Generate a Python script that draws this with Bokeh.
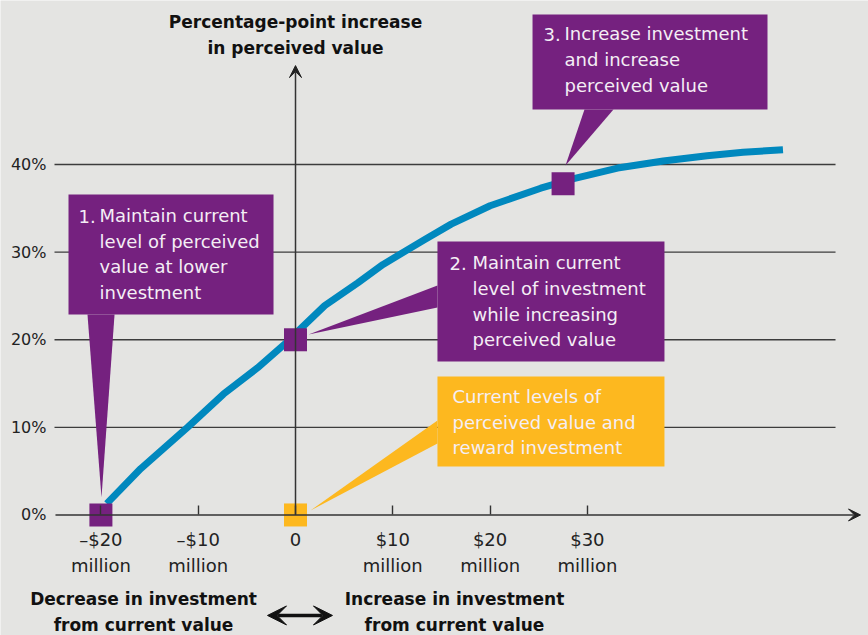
from bokeh.plotting import figure
from bokeh.models import LinearAxis, FixedTicker, Arrow, VeeHead, Range1d
from bokeh.core.properties import value
from bokeh.embed import file_html
from bokeh.resources import INLINE

# ---- data ----
x_ticks = [-20, -10, 0, 10, 20, 30]
x_tick_labels = ["\u2013$20\nmillion", "\u2013$10\nmillion", "0", "$10\nmillion", "$20\nmillion", "$30\nmillion"]
y_ticks = [0, 10, 20, 30, 40]
y_tick_labels = ["0%", "10%", "20%", "30%", "40%"]

invest = [-19.4, -15.9, -11.1, -7.4, -3.9, -0.5, 0.0, 3.0, 6.4, 9.0, 13.2, 16.0, 20.0, 25.2, 28.6, 33.1, 37.8, 42.3, 46.0, 50.1]
perceived = [1.3, 5.3, 10.0, 13.8, 16.8, 20.1, 20.7, 23.9, 26.5, 28.6, 31.4, 33.2, 35.3, 37.3, 38.4, 39.6, 40.4, 41.0, 41.4, 41.7]

marker_x = [-20, 0, 27.5, 0]
marker_y = [0, 20, 37.8, 0]

BG = "#e4e4e2"
PURPLE = "#75217f"
YELLOW = "#fdb81f"
BLUE = "#0088be"
DARK = "#333333"
FONT = "DejaVu Sans"

marker_colors = [PURPLE, PURPLE, PURPLE, YELLOW]

p = figure(width=868, height=635, x_range=Range1d(-30.32, 58.89), y_range=Range1d(-13.76, 58.73),
           output_backend="svg", toolbar_location=None, min_border=0,
           x_axis_type=None, y_axis_type=None)
p.background_fill_color = BG
p.border_fill_color = BG
p.outline_line_color = None

# gridlines
grid_y = [t for t in y_ticks if t > 0]
p.segment(x0=[-24.77] * len(grid_y), x1=[55.5] * len(grid_y), y0=grid_y, y1=grid_y,
          line_color="#3c3c3c", line_width=1.4)

# axes
xaxis = LinearAxis(fixed_location=0, ticker=FixedTicker(ticks=x_ticks),
                   major_label_overrides=dict(zip(x_ticks, x_tick_labels)),
                   axis_line_color=None, major_tick_in=9, major_tick_out=0,
                   major_tick_line_color=DARK, major_tick_line_width=1.4,
                   minor_tick_line_color=None, major_label_standoff=14,
                   major_label_text_font=FONT, major_label_text_font_size="18px",
                   major_label_text_color="#222222", major_label_text_line_height=1.24)
p.add_layout(xaxis, "below")

yaxis = LinearAxis(fixed_location=-24.77, ticker=FixedTicker(ticks=y_ticks),
                   major_label_overrides=dict(zip(y_ticks, y_tick_labels)),
                   axis_line_color=None, major_tick_line_color=None, major_tick_in=0, major_tick_out=0,
                   minor_tick_line_color=None, major_label_standoff=8,
                   major_label_text_font=FONT, major_label_text_font_size="16px",
                   major_label_text_color="#222222")
p.add_layout(yaxis, "left")

p.add_layout(Arrow(end=VeeHead(size=12, fill_color="#222222", line_color="#222222"),
                   x_start=-24.67, y_start=0, x_end=58.07, y_end=0,
                   line_color=DARK, line_width=1.5))
p.add_layout(Arrow(end=VeeHead(size=12, fill_color="#222222", line_color="#222222"),
                   x_start=0, y_start=0, x_end=0, y_end=51.3,
                   line_color=DARK, line_width=1.5))

# curve
p.line(invest, perceived, line_color=BLUE, line_width=7, line_join="round")

# callout boxes
p.quad(left=[-23.33, 14.59, 24.36, 14.59], right=[-2.26, 37.92, 48.51, 37.92],
       top=[36.59, 31.22, 57.13, 15.81], bottom=[22.89, 17.52, 46.29, 5.54],
       fill_color=[PURPLE, PURPLE, PURPLE, YELLOW], line_color=None)
p.patches(xs=[[-21.38, -18.6, -19.94], [14.59, 14.59, 1.34], [29.70, 32.68, 27.75], [14.59, 14.59, 1.54]],
          ys=[[22.89, 22.89, 2.0], [26.2, 23.69, 20.61], [46.29, 46.29, 39.9], [10.79, 8.16, 0.51]],
          fill_color=[PURPLE, PURPLE, PURPLE, YELLOW], line_color=None)

# markers
p.scatter(marker_x, marker_y, marker="square", size=23, fill_color=marker_colors, line_color=None)

# callout texts
p.text(x=[-22.30, 15.83, 25.49], y=[34.84, 29.47, 55.61], text=["1.", "2.", "3."],
       text_font=value(FONT), text_font_size="18px", text_color="#f4eef5",
       text_baseline="top", text_align="left")
p.text(x=[-20.14, 18.19, 27.65, 16.14], y=[35.39, 30.02, 56.16, 14.73],
       text=["Maintain current\nlevel of perceived\nvalue at lower\ninvestment",
             "Maintain current\nlevel of investment\nwhile increasing\nperceived value",
             "Increase investment\nand increase\nperceived value",
             "Current levels of\nperceived value and\nreward investment"],
       text_font=value(FONT), text_font_size="18px", text_color="#f4eef5",
       text_baseline="top", text_align="left", text_line_height=1.227)

# titles
p.text(x=[0, -15.62, 16.34], y=[54.79, -11.07, -11.07],
       text=["Percentage-point increase\nin perceived value",
             "Decrease in investment\nfrom current value",
             "Increase in investment\nfrom current value"],
       text_font=value(FONT), text_font_size="17px", text_font_style="bold", text_color="#111111",
       text_baseline="middle", text_align="center", text_line_height=1.32)

p.add_layout(Arrow(start=VeeHead(size=19, fill_color="#111111", line_color="#111111"),
                   end=VeeHead(size=19, fill_color="#111111", line_color="#111111"),
                   x_start=-2.88, y_start=-11.47, x_end=3.80, y_end=-11.47,
                   line_color="#111111", line_width=3.5))

open("out.html", "w").write(file_html(p, INLINE))
